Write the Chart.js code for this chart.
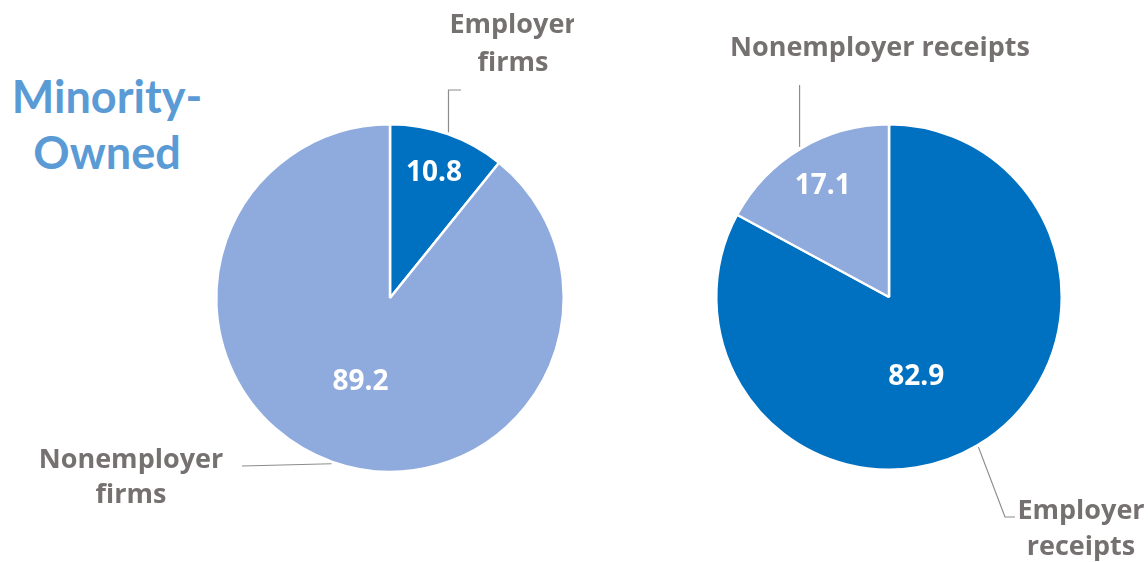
<!DOCTYPE html>
<html>
<head>
<meta charset="utf-8">
<script src="https://cdn.jsdelivr.net/npm/chart.js@4"></script>
<style>
  html,body{margin:0;padding:0;background:#fff;}
  body{width:1148px;height:562px;position:relative;overflow:hidden;}
  .wrap{position:absolute;top:0;width:574px;height:562px;}
  #title{position:absolute;left:0;top:68px;width:214px;text-align:center;
    font-family:Lato,"Open Sans",sans-serif;font-weight:700;font-size:45px;line-height:56px;color:#5B9BD5;}
</style>
</head>
<body>
<div id="title">Minority-<br>Owned</div>
<div class="wrap" style="left:0"><canvas id="c1" width="574" height="562"></canvas></div>
<div class="wrap" style="left:574px"><canvas id="c2" width="574" height="562"></canvas></div>
<script>
// ---- data ----
const firmLabels = [["Employer","firms"], ["Nonemployer","firms"]];
const firmValues = [10.8, 89.2];
const receiptLabels = [["Nonemployer receipts"], ["Employer","receipts"]];
const receiptValues = [82.9, 17.1];
const receiptOrder = [1, 0]; // label index for each receipt slice (Employer first)

const DARK = '#0070C0', LIGHT = '#8FAADC', GRAY = '#767171', LINE = '#8c8c8c';
const FONT = '"Open Sans", Lato, sans-serif';

function piePlugin(cfg) {
  return {
    id: 'pieLabels',
    afterDatasetsDraw(chart) {
      const ctx = chart.ctx;
      const meta = chart.getDatasetMeta(0);
      const ds = chart.data.datasets[0];
      meta.data.forEach((arc, i) => {
        const p = arc.getProps(['x','y','startAngle','endAngle','outerRadius'], true);
        const mid = (p.startAngle + p.endAngle) / 2;
        const c = cfg[i];
        const a = mid + (c.valDAng || 0) * Math.PI / 180;
        const vr = p.outerRadius * c.valFrac;
        ctx.save();
        ctx.fillStyle = '#fff';
        ctx.font = '700 28px ' + FONT;
        ctx.textAlign = 'center';
        ctx.textBaseline = 'middle';
        ctx.fillText(ds.data[i].toFixed(1), p.x + Math.cos(a) * vr, p.y + Math.sin(a) * vr);
        const sr = p.outerRadius + 2;
        ctx.strokeStyle = LINE;
        ctx.lineWidth = 1.2;
        ctx.beginPath();
        let sx = p.x + Math.cos(mid) * sr, sy = p.y + Math.sin(mid) * sr;
        ctx.moveTo(sx, sy);
        c.leader.forEach(pt => {
          const x = pt[0] === null ? sx : p.x + pt[0];
          const y = pt[1] === null ? sy : p.y + pt[1];
          ctx.lineTo(x, y);
        });
        ctx.stroke();
        ctx.fillStyle = GRAY;
        ctx.font = '700 27px ' + FONT;
        const lines = chart.data.labels[i];
        lines.forEach((t, k) => {
          ctx.fillText(t, p.x + c.text[0], p.y + c.text[1] + k * c.lh);
        });
        ctx.restore();
      });
    }
  };
}

function makePie(id, labels, values, colors, padding, cfg) {
  new Chart(document.getElementById(id), {
    type: 'pie',
    data: {
      labels: labels,
      datasets: [{ data: values, backgroundColor: colors, borderColor: '#fff', borderWidth: 2.5 }]
    },
    options: {
      responsive: false,
      animation: false,
      layout: { padding: padding },
      plugins: { legend: { display: false }, tooltip: { enabled: false } }
    },
    plugins: [piePlugin(cfg)]
  });
}

makePie('c1', firmLabels, firmValues, [DARK, LIGHT],
  { left: 215, right: 9, top: 123, bottom: 89 },
  [
    { valFrac: 0.76, valDAng: 0, leader: [[null, -208], [71, -208]], text: [123, -273], lh: 38 },
    { valFrac: 0.51, valDAng: 0, leader: [[-148, 168]], text: [-259, 162], lh: 35 }
  ]);

makePie('c2', receiptOrder.map(k => receiptLabels[k]), receiptValues, [DARK, LIGHT],
  { left: 140, right: 84, top: 123, bottom: 91 },
  [
    { valFrac: 0.49, valDAng: 12, leader: [[116, 220], [126, 220]], text: [192, 214], lh: 36 },
    { valFrac: 0.75, valDAng: 0, leader: [[null, -212]], text: [-9, -249], lh: 36 }
  ]);
</script>
</body>
</html>
